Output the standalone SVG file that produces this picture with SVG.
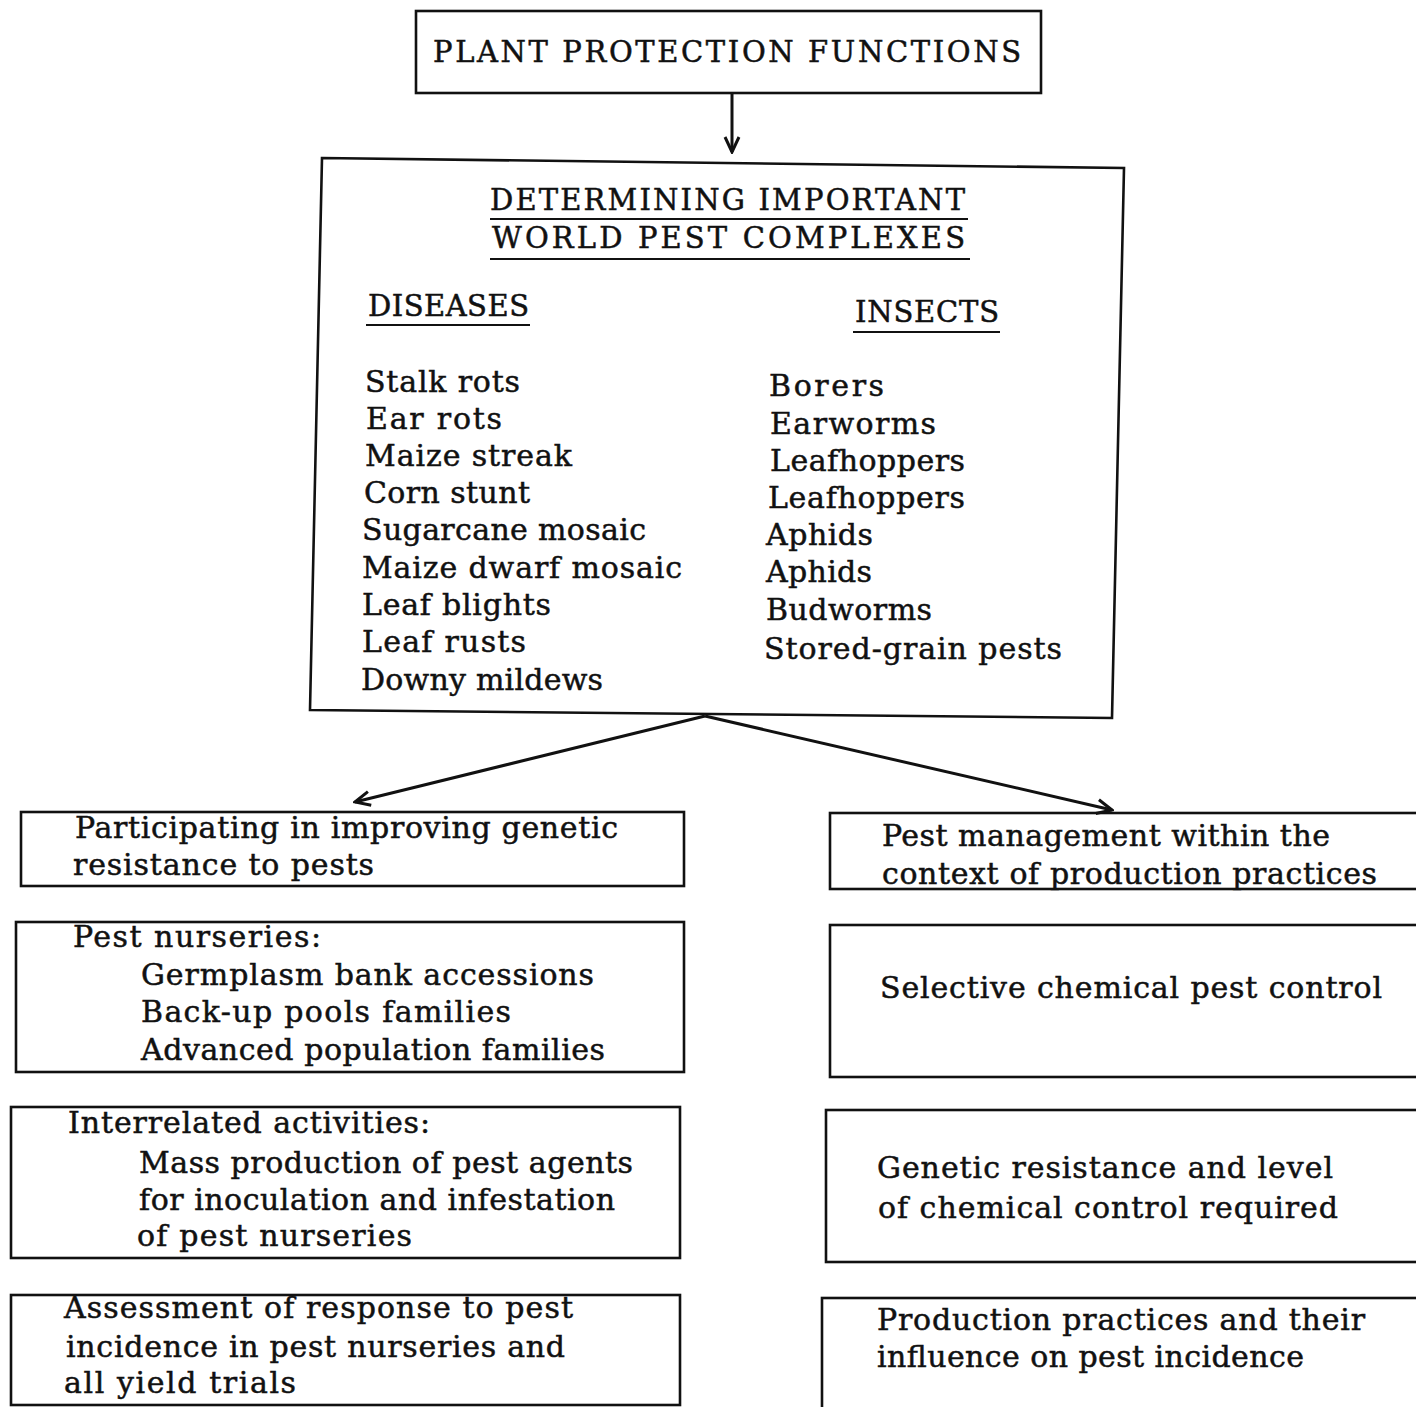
<svg xmlns="http://www.w3.org/2000/svg" width="1416" height="1407" viewBox="0 0 1416 1407">
<style>
.box{fill:none;stroke:#111;stroke-width:2.6}
.t{font-family:"DejaVu Serif","Liberation Serif",serif;font-size:30px;fill:#111;stroke:#111;stroke-width:0.5}
.h{font-family:"DejaVu Serif","Liberation Serif",serif;font-size:29px;fill:#111;stroke:#111;stroke-width:0.5}
.u{stroke:#111;stroke-width:2.2}
.c{fill:none;stroke:#111;stroke-width:3}
</style>
<defs>
<marker id="ah" markerUnits="userSpaceOnUse" viewBox="0 0 20 20" refX="18" refY="10" markerWidth="20" markerHeight="20" orient="auto">
<path d="M3,3 L18,10 L3,17" fill="none" stroke="#111" stroke-width="3"/>
</marker>
</defs>
<rect width="1416" height="1407" fill="#fff"/>

<g id="plant-protection">
<rect class="box" x="416" y="11" width="625" height="82"/>
<text class="h" x="433" y="62" textLength="588">PLANT PROTECTION FUNCTIONS</text>
</g>

<g id="world-pest">
<path class="box" d="M322,158 L1124,168 L1112,718 L310,710 Z"/>
<text class="h" x="490" y="210" textLength="475">DETERMINING IMPORTANT</text>
<line class="u" x1="490" y1="219" x2="968" y2="219"/>
<text class="h" x="492" y="248" textLength="473">WORLD PEST COMPLEXES</text>
<line class="u" x1="490" y1="259" x2="970" y2="259"/>
<text class="h" x="368" y="316" textLength="161">DISEASES</text>
<line class="u" x1="366" y1="325" x2="530" y2="325"/>
<text class="h" x="855" y="322" textLength="144">INSECTS</text>
<line class="u" x1="853" y1="332" x2="1000" y2="332"/>
<text class="t" x="365" y="392" textLength="155">Stalk rots</text>
<text class="t" x="366" y="429" textLength="136">Ear rots</text>
<text class="t" x="365" y="466" textLength="207">Maize streak</text>
<text class="t" x="364" y="503" textLength="166">Corn stunt</text>
<text class="t" x="362" y="540" textLength="284">Sugarcane mosaic</text>
<text class="t" x="362" y="578" textLength="320">Maize dwarf mosaic</text>
<text class="t" x="362" y="615" textLength="189">Leaf blights</text>
<text class="t" x="362" y="652" textLength="164">Leaf rusts</text>
<text class="t" x="361" y="690" textLength="242">Downy mildews</text>
<text class="t" x="769" y="396" textLength="115">Borers</text>
<text class="t" x="770" y="434" textLength="166">Earworms</text>
<text class="t" x="770" y="471" textLength="195">Leafhoppers</text>
<text class="t" x="768" y="508" textLength="197">Leafhoppers</text>
<text class="t" x="766" y="545" textLength="107">Aphids</text>
<text class="t" x="766" y="582" textLength="106">Aphids</text>
<text class="t" x="766" y="620" textLength="166">Budworms</text>
<text class="t" x="764" y="659" textLength="298">Stored-grain pests</text>
</g>

<g id="genetic-resistance">
<rect class="box" x="21" y="812" width="663" height="74"/>
<text class="t" x="75" y="838" textLength="543">Participating in improving genetic</text>
<text class="t" x="73" y="875" textLength="301">resistance to pests</text>
</g>

<g id="pest-management">
<rect class="box" x="830" y="813" width="600" height="76"/>
<text class="t" x="882" y="846" textLength="448">Pest management within the</text>
<text class="t" x="882" y="884" textLength="495">context of production practices</text>
</g>

<g id="pest-nurseries">
<rect class="box" x="16" y="922" width="668" height="150"/>
<text class="t" x="73" y="947" textLength="248">Pest nurseries:</text>
<text class="t" x="141" y="985" textLength="453">Germplasm bank accessions</text>
<text class="t" x="141" y="1022" textLength="370">Back-up pools families</text>
<text class="t" x="141" y="1060" textLength="464">Advanced population families</text>
</g>

<g id="selective-chemical">
<rect class="box" x="830" y="925" width="600" height="152"/>
<text class="t" x="880" y="998" textLength="502">Selective chemical pest control</text>
</g>

<g id="interrelated">
<rect class="box" x="11" y="1107" width="669" height="151"/>
<text class="t" x="68" y="1133" textLength="362">Interrelated activities:</text>
<text class="t" x="139" y="1173" textLength="494">Mass production of pest agents</text>
<text class="t" x="139" y="1210" textLength="476">for inoculation and infestation</text>
<text class="t" x="137" y="1246" textLength="275">of pest nurseries</text>
</g>

<g id="genetic-chemical">
<rect class="box" x="826" y="1110" width="600" height="152"/>
<text class="t" x="877" y="1178" textLength="456">Genetic resistance and level</text>
<text class="t" x="878" y="1218" textLength="460">of chemical control required</text>
</g>

<g id="assessment">
<rect class="box" x="11" y="1295" width="669" height="110"/>
<text class="t" x="64" y="1318" textLength="509">Assessment of response to pest</text>
<text class="t" x="66" y="1357" textLength="499">incidence in pest nurseries and</text>
<text class="t" x="64" y="1393" textLength="232">all yield trials</text>
</g>

<g id="production-practices">
<rect class="box" x="822" y="1298" width="610" height="120"/>
<text class="t" x="877" y="1330" textLength="488">Production practices and their</text>
<text class="t" x="877" y="1367" textLength="427">influence on pest incidence</text>
</g>

<g id="connectors">
<line class="c" x1="732" y1="93" x2="732" y2="152" marker-end="url(#ah)"/>
<line class="c" x1="705" y1="716" x2="355" y2="802" marker-end="url(#ah)"/>
<line class="c" x1="705" y1="716" x2="1112" y2="810" marker-end="url(#ah)"/>
</g>
</svg>
